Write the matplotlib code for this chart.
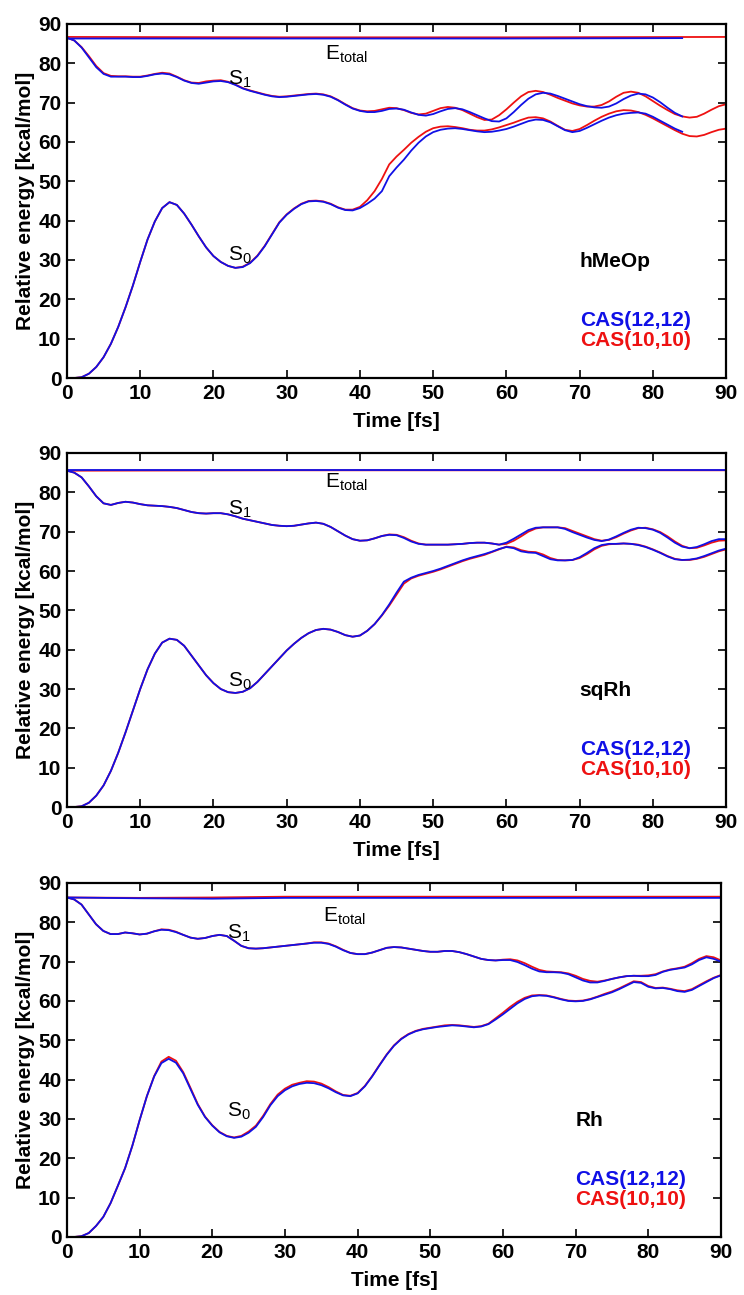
import matplotlib
matplotlib.use("Agg")
import matplotlib.pyplot as plt

plt.rcParams['font.family'] = ['Liberation Sans', 'DejaVu Sans']
plt.rcParams['mathtext.fontset'] = 'custom'
plt.rcParams['mathtext.rm'] = 'Liberation Sans'
plt.rcParams['mathtext.it'] = 'Liberation Sans'

# time grid (fs), values read every 1 fs
TIME = list(range(0, 91))

# ---------------- hMeOp ----------------
hmeop_etot_t_blue = [0, 30, 60, 84]
hmeop_etot_blue = [86.3, 86.3, 86.3, 86.4]
hmeop_etot_t_red = [0, 30, 60, 90]
hmeop_etot_red = [86.7, 86.6, 86.6, 86.7]

hmeop_s1_blue = [86.5, 85.8, 84.0, 81.5, 79.0, 77.3, 76.6, 76.6, 76.6, 76.5,
                 76.5, 76.8, 77.2, 77.4, 77.2, 76.5, 75.6, 75.0, 74.8, 75.1,
                 75.4, 75.5, 75.2, 74.5, 73.6, 73.0, 72.5, 72.0, 71.6, 71.4,
                 71.5, 71.7, 71.9, 72.1, 72.2, 72.0, 71.5, 70.6, 69.5, 68.5,
                 67.9, 67.6, 67.6, 67.9, 68.4, 68.5, 68.2, 67.5, 66.9, 66.7,
                 67.1, 67.8, 68.4, 68.6, 68.3, 67.6, 66.8, 66.0, 65.3, 65.2,
                 66.0, 67.6, 69.4, 71.0, 72.1, 72.5, 72.3, 71.7, 71.0, 70.3,
                 69.6, 69.1, 68.8, 68.7, 69.0, 69.8, 70.9, 71.8, 72.3, 72.1,
                 71.3, 70.1, 68.7, 67.4, 66.5]
hmeop_s1_red = [86.5, 85.8, 84.1, 81.8, 79.3, 77.5, 76.8, 76.7, 76.7, 76.6,
                76.6, 76.9, 77.3, 77.6, 77.4, 76.6, 75.7, 75.1, 75.0, 75.4,
                75.6, 75.7, 75.3, 74.6, 73.7, 73.1, 72.6, 72.1, 71.7, 71.5,
                71.6, 71.8, 72.0, 72.2, 72.3, 72.1, 71.6, 70.7, 69.6, 68.6,
                68.0, 67.8, 67.9, 68.3, 68.7, 68.6, 68.1, 67.4, 67.0, 67.2,
                67.9, 68.6, 68.9, 68.7, 68.1, 67.2, 66.3, 65.6, 65.7, 66.8,
                68.3, 70.0, 71.6, 72.7, 73.0, 72.7, 72.0, 71.2, 70.5, 69.8,
                69.3, 69.0, 69.0, 69.4, 70.3, 71.5, 72.5, 72.8, 72.5, 71.6,
                70.4, 69.2, 68.1, 67.1, 66.5, 66.2, 66.4, 67.2, 68.2, 69.1,
                69.6]
hmeop_s0_blue = [0.0, 0.0, 0.2, 1.1, 2.8, 5.3, 8.7, 13.0, 18.0, 23.5,
                 29.5, 35.2, 39.8, 43.2, 44.7, 44.0, 41.8, 39.0, 36.0, 33.2,
                 31.0, 29.5, 28.5, 28.0, 28.2, 29.2, 31.0, 33.5, 36.5, 39.5,
                 41.5, 43.0, 44.2, 44.9, 45.0, 44.8, 44.2, 43.3, 42.7, 42.6,
                 43.2, 44.3, 45.6, 47.5, 51.3, 53.5, 55.5, 57.8, 59.8, 61.4,
                 62.5, 63.1, 63.4, 63.5, 63.3, 63.0, 62.7, 62.5, 62.6, 62.9,
                 63.3, 63.9, 64.6, 65.3, 65.7, 65.6, 65.0, 64.0, 63.0, 62.5,
                 62.8, 63.6, 64.5, 65.4, 66.2, 66.8, 67.2, 67.4, 67.5, 67.2,
                 66.4, 65.4, 64.4, 63.4, 62.6]
hmeop_s0_red = [0.0, 0.0, 0.2, 1.1, 2.8, 5.3, 8.7, 13.0, 18.0, 23.5,
                29.5, 35.2, 39.8, 43.2, 44.7, 44.0, 41.8, 39.0, 36.0, 33.2,
                31.0, 29.5, 28.5, 28.0, 28.3, 29.3, 31.1, 33.6, 36.6, 39.6,
                41.6, 43.1, 44.3, 45.0, 45.1, 44.9, 44.3, 43.4, 42.8, 42.8,
                43.5, 45.2, 47.5, 50.6, 54.3, 56.3, 58.0, 59.8, 61.3, 62.6,
                63.5, 63.9, 64.0, 63.8, 63.5, 63.1, 62.9, 62.9, 63.2, 63.7,
                64.3, 64.9, 65.6, 66.2, 66.3, 66.0, 65.2, 64.1, 63.1, 62.8,
                63.3, 64.3, 65.4, 66.4, 67.2, 67.8, 68.1, 68.0, 67.6, 66.9,
                66.0, 65.0, 64.0, 63.0, 62.1, 61.5, 61.4, 61.8, 62.5, 63.1,
                63.4]

# ---------------- sqRh ----------------
sqrh_etot_t = [0, 30, 60, 90]
sqrh_etot_blue = [85.6, 85.6, 85.6, 85.6]
sqrh_etot_red = [85.5, 85.6, 85.6, 85.6]

sqrh_s1_blue = [85.5, 85.0, 83.8, 81.5, 79.0, 77.2, 76.8, 77.3, 77.6, 77.4,
                77.0, 76.7, 76.6, 76.5, 76.3, 76.0, 75.5, 75.0, 74.7, 74.6,
                74.7, 74.7, 74.4, 73.9, 73.3, 72.9, 72.5, 72.1, 71.7, 71.5,
                71.4, 71.5, 71.8, 72.1, 72.3, 72.0, 71.2, 70.1, 69.0, 68.1,
                67.7, 67.8, 68.3, 68.9, 69.2, 69.1, 68.4, 67.5, 66.9, 66.7,
                66.7, 66.7, 66.7, 66.8, 66.9, 67.1, 67.2, 67.2, 67.0, 66.7,
                67.2, 68.2, 69.3, 70.4, 71.0, 71.1, 71.1, 71.1, 70.7, 69.9,
                69.2, 68.5, 67.9, 67.6, 68.0, 68.8, 69.7, 70.5, 71.0, 70.9,
                70.5, 69.7, 68.5, 67.2, 66.2, 65.8, 66.1, 66.8, 67.6, 68.1,
                68.1]
sqrh_s1_red = [85.5, 85.0, 83.8, 81.5, 79.0, 77.2, 76.8, 77.3, 77.6, 77.4,
               77.0, 76.7, 76.6, 76.5, 76.3, 76.0, 75.5, 75.0, 74.7, 74.6,
               74.7, 74.7, 74.4, 73.9, 73.3, 72.9, 72.5, 72.1, 71.7, 71.5,
               71.4, 71.5, 71.8, 72.1, 72.3, 72.0, 71.2, 70.1, 69.0, 68.1,
               67.7, 67.8, 68.3, 68.9, 69.3, 69.2, 68.6, 67.7, 67.0, 66.7,
               66.7, 66.7, 66.7, 66.8, 66.9, 67.1, 67.2, 67.2, 67.0, 66.7,
               66.9, 67.7, 68.8, 70.0, 70.8, 71.1, 71.1, 71.1, 70.9, 70.2,
               69.5, 68.8, 68.1, 67.7, 67.9, 68.6, 69.5, 70.3, 70.9, 71.0,
               70.6, 69.9, 68.8, 67.5, 66.4, 65.8, 65.9, 66.5, 67.2, 67.7,
               67.8]
sqrh_s0_blue = [0.0, 0.0, 0.2, 1.1, 2.9, 5.5, 9.2, 13.8, 19.0, 24.5,
                30.0, 35.0, 39.0, 41.8, 42.8, 42.5, 41.0, 38.5, 36.0, 33.5,
                31.5, 30.0, 29.2, 29.0, 29.3, 30.2, 31.8, 33.8, 35.8, 37.8,
                39.8, 41.5, 43.0, 44.2, 45.0, 45.3, 45.1, 44.5, 43.7, 43.3,
                43.6, 44.8, 46.5, 48.8, 51.5, 54.5, 57.3, 58.3, 59.0, 59.5,
                60.0, 60.6, 61.3, 62.0, 62.7, 63.3, 63.8, 64.3, 64.9, 65.6,
                66.1, 65.8, 65.0, 64.7, 64.6, 63.8, 63.0, 62.7, 62.7, 62.8,
                63.5, 64.6, 65.8, 66.6, 66.9, 66.9, 67.0, 66.9, 66.6, 66.1,
                65.4, 64.6, 63.7, 63.0, 62.8, 62.9, 63.2, 63.8, 64.5, 65.2,
                65.7]
sqrh_s0_red = [0.0, 0.0, 0.2, 1.1, 2.9, 5.5, 9.2, 13.8, 19.0, 24.5,
               30.0, 35.0, 39.0, 41.8, 42.8, 42.5, 41.0, 38.5, 36.0, 33.5,
               31.5, 30.0, 29.2, 29.0, 29.3, 30.2, 31.8, 33.8, 35.8, 37.8,
               39.8, 41.5, 43.0, 44.2, 45.0, 45.3, 45.1, 44.5, 43.7, 43.3,
               43.6, 44.8, 46.5, 48.7, 51.2, 54.0, 56.8, 58.1, 58.8, 59.3,
               59.8, 60.4, 61.1, 61.8, 62.5, 63.1, 63.6, 64.1, 64.8, 65.5,
               66.2, 66.0, 65.3, 64.9, 64.8, 64.2, 63.3, 62.8, 62.7, 62.8,
               63.3, 64.3, 65.5, 66.4, 66.8, 66.9, 67.0, 66.9, 66.7, 66.2,
               65.5, 64.7, 63.8, 63.1, 62.8, 62.8, 63.1, 63.6, 64.3, 65.0,
               65.5]

# ---------------- Rh ----------------
rh_etot_t = [0, 10, 20, 30, 60, 90]
rh_etot_blue = [86.3, 86.1, 86.0, 86.2, 86.2, 86.2]
rh_etot_red = [86.3, 86.2, 86.3, 86.5, 86.5, 86.5]

rh_s1_blue = [86.3, 85.8, 84.5, 82.0, 79.5, 77.8, 77.0, 77.0, 77.4, 77.2,
              76.9, 77.1, 77.7, 78.1, 78.0, 77.5, 76.8, 76.1, 75.8, 76.0,
              76.5, 76.8, 76.5, 75.3, 74.0, 73.4, 73.3, 73.4, 73.6, 73.8,
              74.0, 74.2, 74.4, 74.6, 74.8, 74.8, 74.5, 73.8, 72.9, 72.2,
              71.9, 71.9, 72.3, 72.9, 73.5, 73.7, 73.6, 73.3, 73.0, 72.7,
              72.5, 72.5, 72.7, 72.7, 72.4, 71.9, 71.3, 70.7, 70.4, 70.3,
              70.4, 70.4, 69.9, 69.1, 68.2, 67.5, 67.3, 67.3, 67.2, 66.8,
              66.0, 65.2, 64.7, 64.7, 65.1, 65.6, 66.0, 66.3, 66.4, 66.3,
              66.3, 66.6, 67.4, 67.9, 68.2, 68.5, 69.3, 70.4, 71.1, 70.7,
              70.0]
rh_s1_red = [86.3, 85.8, 84.5, 82.0, 79.5, 77.8, 77.0, 77.0, 77.4, 77.2,
             76.9, 77.1, 77.7, 78.2, 78.1, 77.6, 76.8, 76.1, 75.8, 76.0,
             76.5, 76.8, 76.5, 75.3, 74.0, 73.4, 73.3, 73.4, 73.6, 73.8,
             74.0, 74.2, 74.4, 74.6, 74.9, 74.9, 74.6, 73.9, 73.0, 72.2,
             71.9, 71.9, 72.3, 72.9, 73.5, 73.7, 73.6, 73.3, 73.0, 72.7,
             72.5, 72.5, 72.7, 72.7, 72.4, 71.9, 71.3, 70.7, 70.4, 70.3,
             70.5, 70.6, 70.3, 69.6, 68.7, 67.9, 67.5, 67.4, 67.3, 67.0,
             66.4, 65.6, 65.1, 64.9, 65.2, 65.6, 66.0, 66.3, 66.4, 66.4,
             66.5, 66.8, 67.5, 68.0, 68.3, 68.7, 69.6, 70.7, 71.4, 71.1,
             70.3]
rh_s0_blue = [0.0, 0.0, 0.2, 1.0, 2.8, 5.1, 8.6, 13.0, 17.5, 23.2,
              29.7, 35.8, 40.8, 44.2, 45.3, 44.3, 41.6, 37.6, 33.6, 30.5,
              28.3, 26.6, 25.6, 25.2, 25.5, 26.5, 28.0, 30.5, 33.5, 35.8,
              37.3, 38.3, 38.9, 39.2, 39.1, 38.6, 37.8, 36.8, 36.0, 35.8,
              36.5, 38.3, 40.8, 43.6, 46.3, 48.6, 50.3, 51.5, 52.3, 52.8,
              53.1, 53.4, 53.6, 53.8, 53.7, 53.5, 53.3, 53.5, 54.1, 55.3,
              56.6, 58.0, 59.4, 60.5, 61.2, 61.4, 61.3, 60.9, 60.4, 60.0,
              59.9, 60.0, 60.4, 61.0, 61.6, 62.2, 63.0, 63.9, 64.8, 64.6,
              63.6, 63.2, 63.3, 63.0, 62.5, 62.3, 62.8, 63.8, 64.8, 65.8,
              66.5]
rh_s0_red = [0.0, 0.0, 0.2, 1.0, 2.8, 5.1, 8.6, 13.0, 17.5, 23.2,
             29.7, 35.8, 40.9, 44.6, 45.8, 44.8, 41.9, 37.9, 33.8, 30.6,
             28.4, 26.7, 25.7, 25.3, 25.7, 26.8, 28.3, 30.8, 33.8, 36.2,
             37.7, 38.7, 39.2, 39.6, 39.5, 39.0, 38.1, 37.0, 36.1, 35.9,
             36.6, 38.4, 40.9, 43.7, 46.4, 48.7, 50.4, 51.6, 52.4, 52.9,
             53.2, 53.5, 53.8, 53.9, 53.8, 53.6, 53.4, 53.6, 54.2, 55.6,
             57.0, 58.5, 59.8, 60.8, 61.4, 61.5, 61.4, 61.0, 60.5, 60.1,
             60.0, 60.1, 60.5, 61.1, 61.8, 62.4, 63.2, 64.1, 65.0, 64.8,
             63.8, 63.3, 63.4, 63.1, 62.7, 62.5, 63.0, 64.0, 65.0, 65.9,
             66.6]

BLUE = '#1010e6'
RED = '#ee1111'

fig = plt.figure(figsize=(7.44, 12.95), dpi=100)

# left, bottom, width, height (fractions) for the three panels
boxes = [[0.090, 0.7081, 0.886, 0.2734],
         [0.090, 0.3768, 0.886, 0.2734],
         [0.090, 0.0448, 0.879, 0.2734]]

panels = [
    ("hMeOp", hmeop_etot_t_red, hmeop_etot_red, hmeop_etot_t_blue, hmeop_etot_blue,
     hmeop_s1_red, hmeop_s0_red, hmeop_s1_blue, hmeop_s0_blue,
     (80.8, 74.5, 29.9)),
    ("sqRh", sqrh_etot_t, sqrh_etot_red, sqrh_etot_t, sqrh_etot_blue,
     sqrh_s1_red, sqrh_s0_red, sqrh_s1_blue, sqrh_s0_blue,
     (81.1, 74.3, 30.7)),
    ("Rh", rh_etot_t, rh_etot_red, rh_etot_t, rh_etot_blue,
     rh_s1_red, rh_s0_red, rh_s1_blue, rh_s0_blue,
     (80.1, 75.8, 30.5)),
]

for box, p in zip(boxes, panels):
    name, et_r, e_r, et_b, e_b, s1_r, s0_r, s1_b, s0_b, lab_y = p
    ax = fig.add_axes(box)
    lw = 1.3
    # red (CAS(10,10)) underneath, blue (CAS(12,12)) on top
    ax.plot(et_r, e_r, color=RED, lw=lw)
    ax.plot(TIME[:len(s1_r)], s1_r, color=RED, lw=lw)
    ax.plot(TIME[:len(s0_r)], s0_r, color=RED, lw=lw)
    ax.plot(et_b, e_b, color=BLUE, lw=lw)
    ax.plot(TIME[:len(s1_b)], s1_b, color=BLUE, lw=lw)
    ax.plot(TIME[:len(s0_b)], s0_b, color=BLUE, lw=lw)

    ax.set_xlim(0, 90)
    ax.set_ylim(0, 90)
    ax.set_xticks(range(0, 91, 10))
    ax.set_yticks(range(0, 91, 10))
    ax.tick_params(direction='in', top=True, right=True, length=6, width=1.2,
                   labelsize=15, pad=4)
    for lbl in ax.get_xticklabels() + ax.get_yticklabels():
        lbl.set_fontweight('bold')
    for sp in ax.spines.values():
        sp.set_linewidth(1.6)

    ax.set_xlabel("Time [fs]", fontsize=15, fontweight='bold', labelpad=7)
    ax.set_ylabel("Relative energy [kcal/mol]", fontsize=15, fontweight='bold',
                  labelpad=2)

    ax.text(35.2, lab_y[0], r'E$_{\mathrm{total}}$', fontsize=15, va='baseline')
    ax.text(22.0, lab_y[1], r'S$_{\mathrm{1}}$', fontsize=15, va='baseline')
    ax.text(22.0, lab_y[2], r'S$_{\mathrm{0}}$', fontsize=15, va='baseline')

    ax.text(70.0, 28.3, name, fontsize=15, fontweight='bold', va='baseline')
    ax.text(70.0, 13.3, "CAS(12,12)", fontsize=15, fontweight='bold',
            color=BLUE, va='baseline')
    ax.text(70.0, 8.2, "CAS(10,10)", fontsize=15, fontweight='bold',
            color=RED, va='baseline')

fig.savefig("out.png", dpi=100)
